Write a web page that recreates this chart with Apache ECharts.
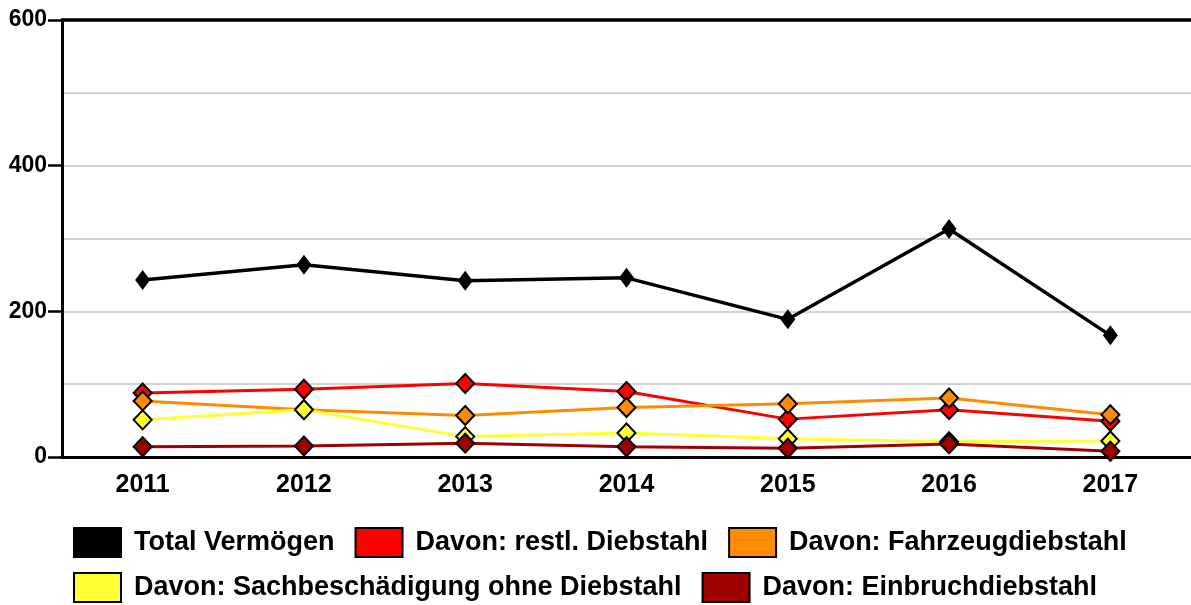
<!DOCTYPE html>
<html>
<head>
<meta charset="utf-8">
<script src="https://cdn.jsdelivr.net/npm/echarts@6/dist/echarts.min.js"></script>
<style>
  html, body { margin: 0; padding: 0; background: #fff; }
  #chart { width: 1191px; height: 605px; }
</style>
</head>
<body>
<div id="chart"></div>
<script>
// Years on the x axis
const years = ['2011', '2012', '2013', '2014', '2015', '2016', '2017'];

// Series values per year
const totalVermoegen = [243, 264, 242, 246, 189, 313, 167];
const restlDiebstahl = [88, 93, 101, 90, 52, 65, 49];
const fahrzeugDiebstahl = [77, 65, 57, 68, 73, 81, 58];
const sachbeschaedigung = [51, 65, 28, 33, 25, 21, 22];
const einbruchDiebstahl = [14, 15, 19, 14, 12, 18, 8];

// Series names and colours
const seriesNames = [
  'Total Vermögen',
  'Davon: restl. Diebstahl',
  'Davon: Fahrzeugdiebstahl',
  'Davon: Sachbeschädigung ohne Diebstahl',
  'Davon: Einbruchdiebstahl'
];
const seriesColors = ['#000000', '#ff0000', '#ff8c00', '#ffff33', '#a00000'];
const seriesValues = [totalVermoegen, restlDiebstahl, fahrzeugDiebstahl, sachbeschaedigung, einbruchDiebstahl];

const FONT = 'Liberation Sans';

const chart = echarts.init(document.getElementById('chart'), null, { renderer: 'canvas' });

const series = seriesNames.map((name, i) => ({
  name: name,
  type: 'line',
  xAxisIndex: 0,
  yAxisIndex: 0,
  data: seriesValues[i],
  symbol: 'diamond',
  symbolSize: i === 0 ? [15, 20] : [18, 19],
  showSymbol: true,
  animation: false,
  lineStyle: { color: seriesColors[i], width: i === 0 ? 3.5 : 3 },
  itemStyle: {
    color: seriesColors[i],
    borderColor: '#000',
    borderWidth: i === 0 ? 0 : 2
  },
  emphasis: { disabled: true },
  z: 2 + i
}));

const legendCommon = {
  icon: 'rect',
  orient: 'horizontal',
  left: 73,
  padding: 0,
  itemWidth: 47,
  itemHeight: 29,
  itemGap: 20,
  itemStyle: { borderColor: '#000', borderWidth: 2 },
  textStyle: {
    fontFamily: FONT,
    fontSize: 27,
    fontWeight: 'bold',
    color: '#000',
    padding: [8, 0, 0, 8]
  },
  selectedMode: false
};

chart.setOption({
  backgroundColor: '#fff',
  animation: false,
  grid: { left: 62, right: 0, top: 20, bottom: 148, containLabel: false },
  legend: [
    Object.assign({}, legendCommon, { top: 527, data: seriesNames.slice(0, 3) }),
    Object.assign({}, legendCommon, { top: 572, data: seriesNames.slice(3) })
  ],
  xAxis: [
    {
      type: 'category',
      data: years,
      position: 'bottom',
      boundaryGap: true,
      axisLine: { show: true, onZero: false, lineStyle: { color: '#000', width: 3 } },
      axisTick: { show: false },
      axisLabel: {
        fontFamily: FONT,
        fontSize: 25,
        fontWeight: 'bold',
        color: '#000',
        margin: 16
      },
      splitLine: { show: false },
      z: 4
    },
    {
      type: 'category',
      data: years,
      position: 'top',
      axisLine: { show: true, onZero: false, lineStyle: { color: '#000', width: 3.5 } },
      axisTick: { show: false },
      axisLabel: { show: false },
      splitLine: { show: false },
      z: 4
    }
  ],
  yAxis: [
    {
      type: 'value',
      min: 0,
      max: 600,
      interval: 200,
      position: 'left',
      axisLine: { show: true, lineStyle: { color: '#000', width: 3 } },
      axisTick: { show: true, length: 14, lineStyle: { color: '#000', width: 2.5 } },
      axisLabel: {
        fontFamily: FONT,
        fontSize: 23,
        fontWeight: 'bold',
        color: '#000',
        margin: 15
      },
      splitLine: { show: false },
      z: 4
    },
    {
      type: 'value',
      min: 0,
      max: 600,
      interval: 100,
      position: 'left',
      axisLine: { show: false },
      axisTick: { show: false },
      axisLabel: { show: false },
      splitLine: { show: true, lineStyle: { color: '#d2d2d2', width: 2 } },
      z: 0
    }
  ],
  series: series
});
</script>
</body>
</html>
